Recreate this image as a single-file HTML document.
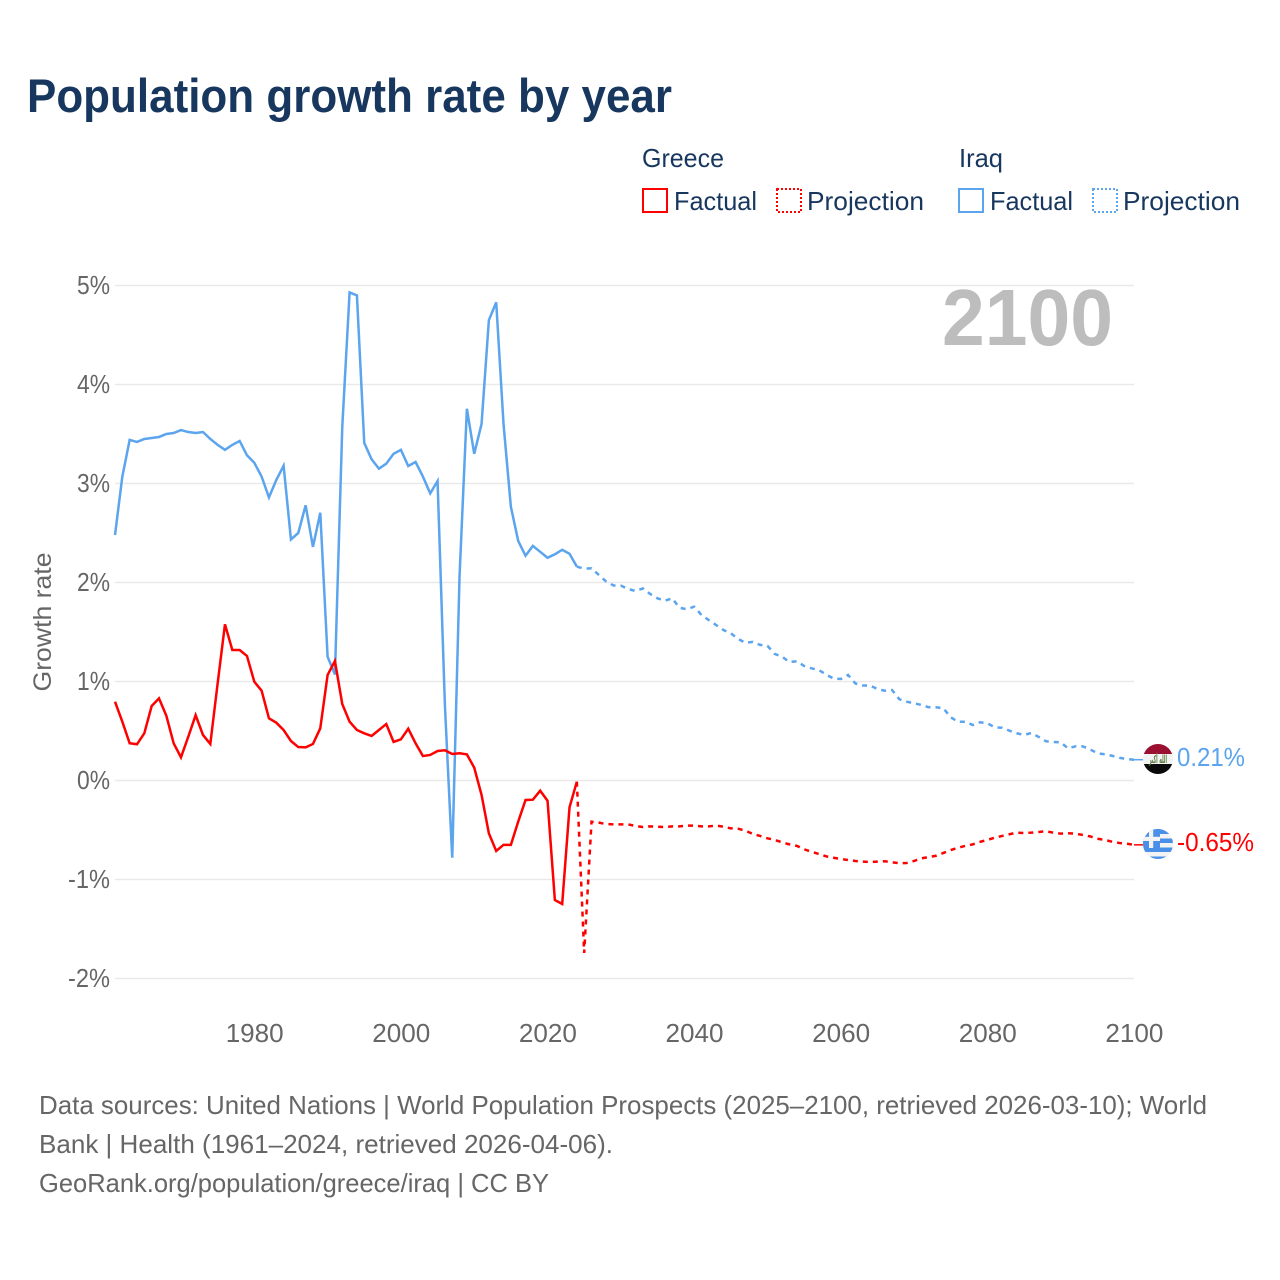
<!DOCTYPE html>
<html lang="en">
<head>
<meta charset="utf-8">
<title>Population growth rate by year</title>
<style>
html,body{margin:0;padding:0;background:#fff;}
svg{display:block;}
text{font-family:"Liberation Sans","DejaVu Sans",sans-serif;}
</style>
</head>
<body>
<svg id="chart" xmlns="http://www.w3.org/2000/svg" width="1280" height="1280" viewBox="0 0 1280 1280">
  <defs>
    <clipPath id="clip-iraq"><circle cx="1158" cy="759" r="15"/></clipPath>
    <clipPath id="clip-greece"><circle cx="1158" cy="844" r="15"/></clipPath>
  </defs>
  <rect width="1280" height="1280" fill="#fff"/>
  <text x="27" y="112" font-size="47" font-weight="700" fill="#17375e" textLength="645" lengthAdjust="spacingAndGlyphs">Population growth rate by year</text>

  <g font-size="26" fill="#17375e">
    <text x="642" y="167" textLength="82" lengthAdjust="spacingAndGlyphs">Greece</text>
    <text x="959" y="167" textLength="44" lengthAdjust="spacingAndGlyphs">Iraq</text>
    <rect x="643" y="189" width="24" height="23" fill="none" stroke="#ff0000" stroke-width="2"/>
    <text x="674" y="210" textLength="83" lengthAdjust="spacingAndGlyphs">Factual</text>
    <rect x="777" y="189" width="24" height="23" fill="none" stroke="#ff0000" stroke-width="2" stroke-dasharray="2 2"/>
    <text x="807" y="210" textLength="117" lengthAdjust="spacingAndGlyphs">Projection</text>
    <rect x="959" y="189" width="24" height="23" fill="none" stroke="#5ba4ee" stroke-width="2"/>
    <text x="990" y="210" textLength="83" lengthAdjust="spacingAndGlyphs">Factual</text>
    <rect x="1093" y="189" width="24" height="23" fill="none" stroke="#5ba4ee" stroke-width="2" stroke-dasharray="2 2"/>
    <text x="1123" y="210" textLength="117" lengthAdjust="spacingAndGlyphs">Projection</text>
  </g>

  <g id="grid"></g>
  <g id="y-labels"></g>
  <g id="x-labels"></g>
  <text x="0" y="0" transform="translate(51,622) rotate(-90)" font-size="25" fill="#666" text-anchor="middle" textLength="139" lengthAdjust="spacingAndGlyphs">Growth rate</text>
  <text x="942" y="345" font-size="80" font-weight="700" fill="#bdbdbd" textLength="171" lengthAdjust="spacingAndGlyphs">2100</text>

  <g id="series"></g>

  <circle cx="1158" cy="759" r="15" fill="#f3f3f3"/>
  <g clip-path="url(#clip-iraq)">
    <rect x="1143" y="744" width="30" height="10" fill="#9b1030"/>
    <rect x="1143" y="754" width="30" height="10" fill="#f3f3f3"/>
    <rect x="1143" y="764" width="30" height="10" fill="#0a0a0a"/>
    <text x="1158" y="763" font-size="11" font-weight="700" fill="#5a7a3a" text-anchor="middle" textLength="18" lengthAdjust="spacingAndGlyphs" style="font-family:'DejaVu Sans',sans-serif">الله أكبر</text>
  </g>
  <circle cx="1158" cy="844" r="15" fill="#f3f3f3"/>
  <g clip-path="url(#clip-greece)">
    <rect x="1143" y="829" width="30" height="5" fill="#4a90e8"/>
    <rect x="1143" y="838.5" width="30" height="4.5" fill="#4a90e8"/>
    <rect x="1143" y="847.5" width="30" height="4.5" fill="#4a90e8"/>
    <rect x="1143" y="856.5" width="30" height="3" fill="#4a90e8"/>
    <rect x="1143" y="829" width="17" height="19" fill="#4a90e8"/>
    <rect x="1149" y="829" width="4.2" height="19" fill="#f3f3f3"/>
    <rect x="1143" y="836.8" width="17" height="4.2" fill="#f3f3f3"/>
  </g>
  <text x="1177" y="766" font-size="26" fill="#5ba4ee" textLength="68" lengthAdjust="spacingAndGlyphs">0.21%</text>
  <text x="1177" y="851" font-size="26" fill="#ff0000" textLength="77" lengthAdjust="spacingAndGlyphs">-0.65%</text>

  <g font-size="26" fill="#666">
    <text x="39" y="1114" textLength="1168" lengthAdjust="spacingAndGlyphs">Data sources: United Nations | World Population Prospects (2025–2100, retrieved 2026-03-10); World</text>
    <text x="39" y="1153" textLength="574" lengthAdjust="spacingAndGlyphs">Bank | Health (1961–2024, retrieved 2026-04-06).</text>
    <text x="39" y="1192" textLength="510" lengthAdjust="spacingAndGlyphs">GeoRank.org/population/greece/iraq | CC BY</text>
  </g>
</svg>
<script>
const xTickLabels = [1980, 2000, 2020, 2040, 2060, 2080, 2100];
const yTickValues = [-2, -1, 0, 1, 2, 3, 4, 5];

const factualYears = [
  1961,1962,1963,1964,1965,1966,1967,1968,1969,1970,
  1971,1972,1973,1974,1975,1976,1977,1978,1979,1980,
  1981,1982,1983,1984,1985,1986,1987,1988,1989,1990,
  1991,1992,1993,1994,1995,1996,1997,1998,1999,2000,
  2001,2002,2003,2004,2005,2006,2007,2008,2009,2010,
  2011,2012,2013,2014,2015,2016,2017,2018,2019,2020,
  2021,2022,2023,2024
];
const projectionYears = [
  2024,2025,2026,2027,2028,2029,2030,
  2031,2032,2033,2034,2035,2036,2037,2038,2039,2040,
  2041,2042,2043,2044,2045,2046,2047,2048,2049,2050,
  2051,2052,2053,2054,2055,2056,2057,2058,2059,2060,
  2061,2062,2063,2064,2065,2066,2067,2068,2069,2070,
  2071,2072,2073,2074,2075,2076,2077,2078,2079,2080,
  2081,2082,2083,2084,2085,2086,2087,2088,2089,2090,
  2091,2092,2093,2094,2095,2096,2097,2098,2099,2100
];

const iraqFactual = [
  2.48,3.07,3.44,3.42,3.45,3.46,3.47,3.50,3.51,3.54,
  3.52,3.51,3.52,3.45,3.39,3.34,3.39,3.43,3.285,3.21,
  3.07,2.86,3.035,3.18,2.435,2.50,2.78,2.36,2.705,1.25,
  1.07,3.57,4.93,4.90,3.41,3.245,3.15,3.20,3.30,3.34,
  3.177,3.217,3.07,2.90,3.025,0.76,-0.78,2.07,3.755,3.30,
  3.60,4.65,4.83,3.60,2.765,2.42,2.27,2.37,2.31,2.25,
  2.285,2.33,2.29,2.16
];
const iraqProjection = [
  2.16,2.14,2.143,2.076,2.01,1.97,1.968,
  1.935,1.914,1.94,1.884,1.84,1.816,1.84,1.745,1.73,1.756,
  1.672,1.62,1.57,1.52,1.487,1.43,1.39,1.40,1.37,1.36,
  1.278,1.25,1.197,1.204,1.157,1.133,1.116,1.07,1.03,1.025,
  1.066,0.98,0.96,0.96,0.924,0.907,0.914,0.82,0.796,0.78,
  0.763,0.74,0.74,0.73,0.638,0.594,0.594,0.56,0.588,0.578,
  0.537,0.533,0.503,0.477,0.46,0.48,0.44,0.396,0.389,0.386,
  0.325,0.345,0.345,0.315,0.275,0.265,0.25,0.23,0.217,0.21
];
const greeceFactual = [
  0.796,0.594,0.376,0.366,0.477,0.752,0.83,0.655,0.376,0.234,
  0.443,0.66,0.46,0.369,0.98,1.578,1.318,1.318,1.258,0.998,
  0.907,0.628,0.584,0.51,0.399,0.338,0.335,0.369,0.527,1.066,
  1.207,0.773,0.594,0.51,0.477,0.45,0.51,0.57,0.39,0.416,
  0.523,0.376,0.247,0.258,0.298,0.305,0.268,0.275,0.264,0.13,
  -0.146,-0.534,-0.712,-0.65,-0.65,-0.416,-0.197,-0.194,-0.103,-0.204,
  -1.207,-1.247,-0.271,-0.012
];
const greeceProjection = [
  -0.012,-1.742,-0.416,-0.426,-0.44,-0.443,-0.443,
  -0.443,-0.46,-0.47,-0.463,-0.467,-0.47,-0.463,-0.463,-0.456,-0.456,
  -0.463,-0.463,-0.456,-0.467,-0.483,-0.487,-0.507,-0.54,-0.56,-0.584,
  -0.60,-0.625,-0.645,-0.66,-0.695,-0.72,-0.742,-0.766,-0.78,-0.793,
  -0.803,-0.813,-0.82,-0.823,-0.82,-0.816,-0.826,-0.836,-0.833,-0.813,
  -0.786,-0.773,-0.76,-0.732,-0.702,-0.679,-0.66,-0.645,-0.62,-0.60,
  -0.578,-0.56,-0.543,-0.527,-0.53,-0.527,-0.52,-0.513,-0.527,-0.537,
  -0.533,-0.537,-0.55,-0.564,-0.588,-0.60,-0.618,-0.631,-0.638,-0.65
];

const NS = 'http://www.w3.org/2000/svg';
function xScale(year) { return 115 + (year - 1961) * 7.331; }
function yScale(value) { return 780.5 - value * 99; }
function pointsFor(years, values) {
  return values.map(function (v, i) {
    return xScale(years[i]).toFixed(2) + ',' + yScale(v).toFixed(2);
  }).join(' ');
}

const grid = document.getElementById('grid');
const yLabels = document.getElementById('y-labels');
const xLabels = document.getElementById('x-labels');
const series = document.getElementById('series');

yTickValues.forEach(function (v) {
  const line = document.createElementNS(NS, 'line');
  
  
  line.setAttribute('x1', 115);
  line.setAttribute('x2', 1134);
  line.setAttribute('y1', yScale(v));
  line.setAttribute('y2', yScale(v));
  line.setAttribute('stroke', '#e9e9e9');
  line.setAttribute('stroke-width', 1.4);
  grid.appendChild(line);

  const label = document.createElementNS(NS, 'text');
  
  
  label.setAttribute('x', 110);
  label.setAttribute('y', yScale(v) + 8.5);
  label.setAttribute('text-anchor', 'end');
  label.setAttribute('font-size', 26);
  label.setAttribute('fill', '#666');
  label.setAttribute('textLength', v < 0 ? 42 : 33);
  label.setAttribute('lengthAdjust', 'spacingAndGlyphs');
  label.textContent = v + '%';
  yLabels.appendChild(label);
});

xTickLabels.forEach(function (year) {
  const label = document.createElementNS(NS, 'text');
  
  
  label.setAttribute('x', xScale(year) + 0.4);
  label.setAttribute('y', 1042);
  label.setAttribute('text-anchor', 'middle');
  label.setAttribute('font-size', 26);
  label.setAttribute('fill', '#666');
  label.setAttribute('textLength', 58);
  label.setAttribute('lengthAdjust', 'spacingAndGlyphs');
  label.textContent = year;
  xLabels.appendChild(label);
});

function addLine(years, values, color, dashed, name) {
  const line = document.createElementNS(NS, 'polyline');
  
  
  line.setAttribute('points', pointsFor(years, values));
  line.setAttribute('fill', 'none');
  line.setAttribute('stroke', color);
  line.setAttribute('stroke-width', 2.5);
  line.setAttribute('stroke-linejoin', 'miter');
  if (dashed) line.setAttribute('stroke-dasharray', '5 5');
  series.appendChild(line);
}

addLine(projectionYears, iraqProjection, '#5ba4ee', true, 'iraq-projection-line');
addLine(factualYears, iraqFactual, '#5ba4ee', false, 'iraq-factual-line');
addLine(projectionYears, greeceProjection, '#ff0000', true, 'greece-projection-line');
addLine(factualYears, greeceFactual, '#ff0000', false, 'greece-factual-line');

function addLeader(value, color, name) {
  const leader = document.createElementNS(NS, 'line');
  
  
  leader.setAttribute('x1', xScale(2100));
  leader.setAttribute('x2', 1143);
  leader.setAttribute('y1', yScale(value));
  leader.setAttribute('y2', yScale(value));
  leader.setAttribute('stroke', color);
  leader.setAttribute('stroke-width', 1.5);
  series.appendChild(leader);
}
addLeader(iraqProjection[iraqProjection.length - 1], '#5ba4ee', 'iraq-end-leader');
addLeader(greeceProjection[greeceProjection.length - 1], '#ff0000', 'greece-end-leader');
</script>
</body>
</html>
